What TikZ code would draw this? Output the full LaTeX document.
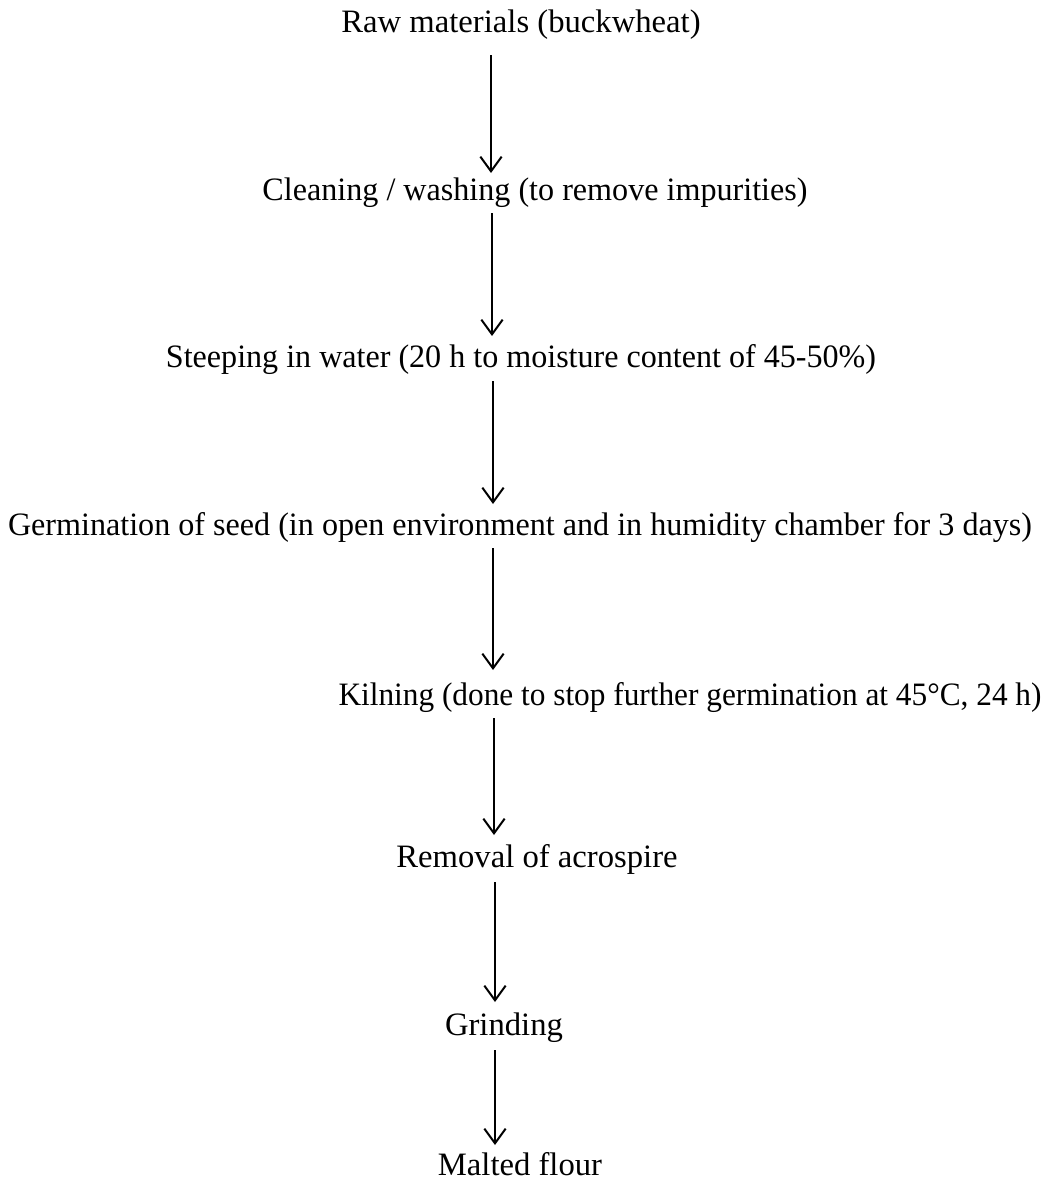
\documentclass[tikz,border=0pt]{standalone}
\usepackage{fontspec}
\setmainfont{Liberation Serif}
\usetikzlibrary{arrows.meta}
\tikzset{
  px/.style={x=0.75pt,y=-0.75pt},
  lbl/.style={anchor=base,inner sep=0pt,outer sep=0pt,font=\fontsize{24.5}{29}\selectfont},
  flow/.style={line width=1.5pt,-{Straight Barb[length=11pt,width=16pt,line width=1.5pt]}}
}
\begin{document}
\begin{tikzpicture}[px]
\useasboundingbox (0,0) rectangle (1048,1185);
\node[lbl] (raw) at (521,32) {Raw materials (buckwheat)};
\node[lbl] (clean) at (535,200) {\resizebox{408.75pt}{\height}{Cleaning / washing (to remove impurities)}};
\node[lbl] (steep) at (521,367) {\resizebox{532.5pt}{\height}{Steeping in water (20 h to moisture content of 45-50\%)}};
\node[lbl] (germ) at (520,535) {\resizebox{768pt}{\height}{Germination of seed (in open environment and in humidity chamber for 3 days)}};
\node[lbl] (kiln) at (690,705) {\resizebox{527.25pt}{\height}{Kilning (done to stop further germination at 45°C, 24 h)}};
\node[lbl] (rem) at (537,867) {Removal of acrospire};
\node[lbl] (grind) at (504,1035) {Grinding};
\node[lbl] (malt) at (520,1175) {Malted flour};
\coordinate (a1s) at (491,55);  \coordinate (a1e) at (491,173);
\coordinate (a2s) at (492,213); \coordinate (a2e) at (492,336);
\coordinate (a3s) at (493,381); \coordinate (a3e) at (493,504);
\coordinate (a4s) at (493,548); \coordinate (a4e) at (493,670);
\coordinate (a5s) at (494,718); \coordinate (a5e) at (494,835);
\coordinate (a6s) at (495,882); \coordinate (a6e) at (495,1002);
\coordinate (a7s) at (495,1050); \coordinate (a7e) at (495,1145);
\draw[flow] (a1s) -- (a1e);
\draw[flow] (a2s) -- (a2e);
\draw[flow] (a3s) -- (a3e);
\draw[flow] (a4s) -- (a4e);
\draw[flow] (a5s) -- (a5e);
\draw[flow] (a6s) -- (a6e);
\draw[flow] (a7s) -- (a7e);
\end{tikzpicture}
\end{document}
